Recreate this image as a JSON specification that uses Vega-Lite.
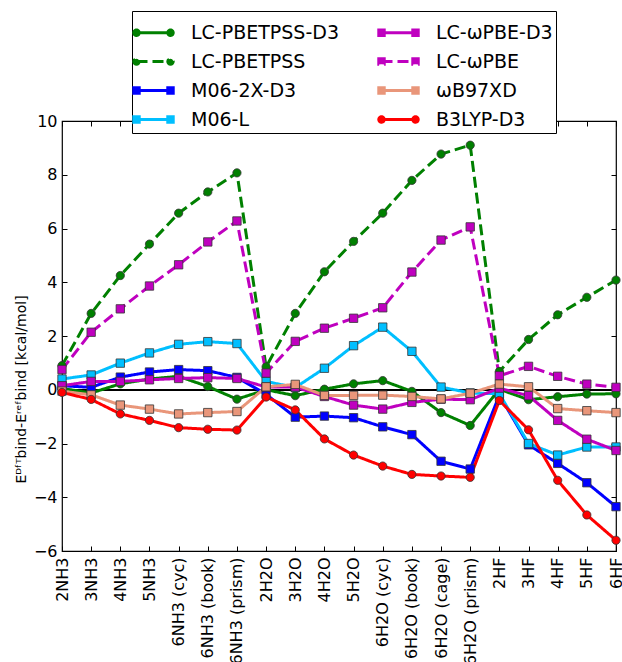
{
  "$schema": "https://vega.github.io/schema/vega-lite/v6.json",
  "width": 554,
  "height": 430,
  "autosize": {"type": "none"},
  "padding": {"left": 62, "top": 121, "right": 6, "bottom": 111},
  "config": {
    "font": "DejaVu Sans",
    "view": {"stroke": "black", "strokeWidth": 1.2},
    "axis": {"labelColor": "black", "tickColor": "black", "labelFont": "DejaVu Sans", "titleFont": "DejaVu Sans", "grid": false, "domain": false}
  },
  "data": {"values": [
    {"m":"LC-PBETPSS-D3","c":"2NH3","v":0.05},{"m":"LC-PBETPSS-D3","c":"3NH3","v":-0.12},{"m":"LC-PBETPSS-D3","c":"4NH3","v":0.22},{"m":"LC-PBETPSS-D3","c":"5NH3","v":0.40},{"m":"LC-PBETPSS-D3","c":"6NH3 (cyc)","v":0.50},{"m":"LC-PBETPSS-D3","c":"6NH3 (book)","v":0.12},{"m":"LC-PBETPSS-D3","c":"6NH3 (prism)","v":-0.35},{"m":"LC-PBETPSS-D3","c":"2H2O","v":0.0},{"m":"LC-PBETPSS-D3","c":"3H2O","v":-0.22},{"m":"LC-PBETPSS-D3","c":"4H2O","v":0.02},{"m":"LC-PBETPSS-D3","c":"5H2O","v":0.22},{"m":"LC-PBETPSS-D3","c":"6H2O (cyc)","v":0.34},{"m":"LC-PBETPSS-D3","c":"6H2O (book)","v":-0.06},{"m":"LC-PBETPSS-D3","c":"6H2O (cage)","v":-0.85},{"m":"LC-PBETPSS-D3","c":"6H2O (prism)","v":-1.33},{"m":"LC-PBETPSS-D3","c":"2HF","v":0.02},{"m":"LC-PBETPSS-D3","c":"3HF","v":-0.37},{"m":"LC-PBETPSS-D3","c":"4HF","v":-0.26},{"m":"LC-PBETPSS-D3","c":"5HF","v":-0.16},{"m":"LC-PBETPSS-D3","c":"6HF","v":-0.15},
    {"m":"LC-PBETPSS","c":"2NH3","v":0.9},{"m":"LC-PBETPSS","c":"3NH3","v":2.84},{"m":"LC-PBETPSS","c":"4NH3","v":4.25},{"m":"LC-PBETPSS","c":"5NH3","v":5.42},{"m":"LC-PBETPSS","c":"6NH3 (cyc)","v":6.57},{"m":"LC-PBETPSS","c":"6NH3 (book)","v":7.36},{"m":"LC-PBETPSS","c":"6NH3 (prism)","v":8.07},{"m":"LC-PBETPSS","c":"2H2O","v":0.85},{"m":"LC-PBETPSS","c":"3H2O","v":2.84},{"m":"LC-PBETPSS","c":"4H2O","v":4.39},{"m":"LC-PBETPSS","c":"5H2O","v":5.52},{"m":"LC-PBETPSS","c":"6H2O (cyc)","v":6.57},{"m":"LC-PBETPSS","c":"6H2O (book)","v":7.79},{"m":"LC-PBETPSS","c":"6H2O (cage)","v":8.77},{"m":"LC-PBETPSS","c":"6H2O (prism)","v":9.10},{"m":"LC-PBETPSS","c":"2HF","v":0.68},{"m":"LC-PBETPSS","c":"3HF","v":1.87},{"m":"LC-PBETPSS","c":"4HF","v":2.79},{"m":"LC-PBETPSS","c":"5HF","v":3.44},{"m":"LC-PBETPSS","c":"6HF","v":4.08},
    {"m":"M06-2X-D3","c":"2NH3","v":0.15},{"m":"M06-2X-D3","c":"3NH3","v":0.09},{"m":"M06-2X-D3","c":"4NH3","v":0.47},{"m":"M06-2X-D3","c":"5NH3","v":0.66},{"m":"M06-2X-D3","c":"6NH3 (cyc)","v":0.75},{"m":"M06-2X-D3","c":"6NH3 (book)","v":0.71},{"m":"M06-2X-D3","c":"6NH3 (prism)","v":0.46},{"m":"M06-2X-D3","c":"2H2O","v":-0.17},{"m":"M06-2X-D3","c":"3H2O","v":-1.02},{"m":"M06-2X-D3","c":"4H2O","v":-0.98},{"m":"M06-2X-D3","c":"5H2O","v":-1.04},{"m":"M06-2X-D3","c":"6H2O (cyc)","v":-1.38},{"m":"M06-2X-D3","c":"6H2O (book)","v":-1.67},{"m":"M06-2X-D3","c":"6H2O (cage)","v":-2.66},{"m":"M06-2X-D3","c":"6H2O (prism)","v":-2.95},{"m":"M06-2X-D3","c":"2HF","v":-0.2},{"m":"M06-2X-D3","c":"3HF","v":-2.05},{"m":"M06-2X-D3","c":"4HF","v":-2.74},{"m":"M06-2X-D3","c":"5HF","v":-3.46},{"m":"M06-2X-D3","c":"6HF","v":-4.35},
    {"m":"M06-L","c":"2NH3","v":0.40},{"m":"M06-L","c":"3NH3","v":0.55},{"m":"M06-L","c":"4NH3","v":0.99},{"m":"M06-L","c":"5NH3","v":1.37},{"m":"M06-L","c":"6NH3 (cyc)","v":1.69},{"m":"M06-L","c":"6NH3 (book)","v":1.79},{"m":"M06-L","c":"6NH3 (prism)","v":1.72},{"m":"M06-L","c":"2H2O","v":0.31},{"m":"M06-L","c":"3H2O","v":0.08},{"m":"M06-L","c":"4H2O","v":0.80},{"m":"M06-L","c":"5H2O","v":1.64},{"m":"M06-L","c":"6H2O (cyc)","v":2.33},{"m":"M06-L","c":"6H2O (book)","v":1.43},{"m":"M06-L","c":"6H2O (cage)","v":0.10},{"m":"M06-L","c":"6H2O (prism)","v":-0.12},{"m":"M06-L","c":"2HF","v":-0.15},{"m":"M06-L","c":"3HF","v":-2.0},{"m":"M06-L","c":"4HF","v":-2.43},{"m":"M06-L","c":"5HF","v":-2.13},{"m":"M06-L","c":"6HF","v":-2.13},
    {"m":"LC-ωPBE-D3","c":"2NH3","v":0.15},{"m":"LC-ωPBE-D3","c":"3NH3","v":0.31},{"m":"LC-ωPBE-D3","c":"4NH3","v":0.31},{"m":"LC-ωPBE-D3","c":"5NH3","v":0.37},{"m":"LC-ωPBE-D3","c":"6NH3 (cyc)","v":0.42},{"m":"LC-ωPBE-D3","c":"6NH3 (book)","v":0.45},{"m":"LC-ωPBE-D3","c":"6NH3 (prism)","v":0.42},{"m":"LC-ωPBE-D3","c":"2H2O","v":0.10},{"m":"LC-ωPBE-D3","c":"3H2O","v":0.10},{"m":"LC-ωPBE-D3","c":"4H2O","v":-0.25},{"m":"LC-ωPBE-D3","c":"5H2O","v":-0.57},{"m":"LC-ωPBE-D3","c":"6H2O (cyc)","v":-0.72},{"m":"LC-ωPBE-D3","c":"6H2O (book)","v":-0.47},{"m":"LC-ωPBE-D3","c":"6H2O (cage)","v":-0.35},{"m":"LC-ωPBE-D3","c":"6H2O (prism)","v":-0.37},{"m":"LC-ωPBE-D3","c":"2HF","v":0.06},{"m":"LC-ωPBE-D3","c":"3HF","v":-0.22},{"m":"LC-ωPBE-D3","c":"4HF","v":-1.14},{"m":"LC-ωPBE-D3","c":"5HF","v":-1.84},{"m":"LC-ωPBE-D3","c":"6HF","v":-2.26},
    {"m":"LC-ωPBE","c":"2NH3","v":0.75},{"m":"LC-ωPBE","c":"3NH3","v":2.14},{"m":"LC-ωPBE","c":"4NH3","v":3.01},{"m":"LC-ωPBE","c":"5NH3","v":3.86},{"m":"LC-ωPBE","c":"6NH3 (cyc)","v":4.65},{"m":"LC-ωPBE","c":"6NH3 (book)","v":5.50},{"m":"LC-ωPBE","c":"6NH3 (prism)","v":6.28},{"m":"LC-ωPBE","c":"2H2O","v":0.62},{"m":"LC-ωPBE","c":"3H2O","v":1.80},{"m":"LC-ωPBE","c":"4H2O","v":2.29},{"m":"LC-ωPBE","c":"5H2O","v":2.66},{"m":"LC-ωPBE","c":"6H2O (cyc)","v":3.05},{"m":"LC-ωPBE","c":"6H2O (book)","v":4.38},{"m":"LC-ωPBE","c":"6H2O (cage)","v":5.57},{"m":"LC-ωPBE","c":"6H2O (prism)","v":6.06},{"m":"LC-ωPBE","c":"2HF","v":0.52},{"m":"LC-ωPBE","c":"3HF","v":0.87},{"m":"LC-ωPBE","c":"4HF","v":0.50},{"m":"LC-ωPBE","c":"5HF","v":0.21},{"m":"LC-ωPBE","c":"6HF","v":0.09},
    {"m":"ωB97XD","c":"2NH3","v":-0.05},{"m":"ωB97XD","c":"3NH3","v":-0.19},{"m":"ωB97XD","c":"4NH3","v":-0.57},{"m":"ωB97XD","c":"5NH3","v":-0.72},{"m":"ωB97XD","c":"6NH3 (cyc)","v":-0.90},{"m":"ωB97XD","c":"6NH3 (book)","v":-0.85},{"m":"ωB97XD","c":"6NH3 (prism)","v":-0.81},{"m":"ωB97XD","c":"2H2O","v":0.11},{"m":"ωB97XD","c":"3H2O","v":0.20},{"m":"ωB97XD","c":"4H2O","v":-0.21},{"m":"ωB97XD","c":"5H2O","v":-0.21},{"m":"ωB97XD","c":"6H2O (cyc)","v":-0.20},{"m":"ωB97XD","c":"6H2O (book)","v":-0.25},{"m":"ωB97XD","c":"6H2O (cage)","v":-0.34},{"m":"ωB97XD","c":"6H2O (prism)","v":-0.13},{"m":"ωB97XD","c":"2HF","v":0.21},{"m":"ωB97XD","c":"3HF","v":0.11},{"m":"ωB97XD","c":"4HF","v":-0.70},{"m":"ωB97XD","c":"5HF","v":-0.78},{"m":"ωB97XD","c":"6HF","v":-0.85},
    {"m":"B3LYP-D3","c":"2NH3","v":-0.10},{"m":"B3LYP-D3","c":"3NH3","v":-0.36},{"m":"B3LYP-D3","c":"4NH3","v":-0.90},{"m":"B3LYP-D3","c":"5NH3","v":-1.14},{"m":"B3LYP-D3","c":"6NH3 (cyc)","v":-1.41},{"m":"B3LYP-D3","c":"6NH3 (book)","v":-1.47},{"m":"B3LYP-D3","c":"6NH3 (prism)","v":-1.50},{"m":"B3LYP-D3","c":"2H2O","v":-0.27},{"m":"B3LYP-D3","c":"3H2O","v":-0.75},{"m":"B3LYP-D3","c":"4H2O","v":-1.83},{"m":"B3LYP-D3","c":"5H2O","v":-2.43},{"m":"B3LYP-D3","c":"6H2O (cyc)","v":-2.84},{"m":"B3LYP-D3","c":"6H2O (book)","v":-3.15},{"m":"B3LYP-D3","c":"6H2O (cage)","v":-3.21},{"m":"B3LYP-D3","c":"6H2O (prism)","v":-3.26},{"m":"B3LYP-D3","c":"2HF","v":-0.40},{"m":"B3LYP-D3","c":"3HF","v":-1.49},{"m":"B3LYP-D3","c":"4HF","v":-3.37},{"m":"B3LYP-D3","c":"5HF","v":-4.66},{"m":"B3LYP-D3","c":"6HF","v":-5.60}
  ]},
  "resolve": {"axis": {"x": "independent", "y": "independent"}},
  "layer": [
    {
      "mark": {"type": "rule", "color": "black", "strokeWidth": 1},
      "encoding": {"y": {"datum": 0, "type": "quantitative", "axis": null}}
    },
    {
      "mark": {"type": "line", "strokeWidth": 3},
      "encoding": {
        "x": {"field": "c", "type": "nominal",
          "scale": {"type": "point", "padding": 0, "domain": ["2NH3","3NH3","4NH3","5NH3","6NH3 (cyc)","6NH3 (book)","6NH3 (prism)","2H2O","3H2O","4H2O","5H2O","6H2O (cyc)","6H2O (book)","6H2O (cage)","6H2O (prism)","2HF","3HF","4HF","5HF","6HF"]},
          "axis": {"orient": "bottom", "title": null, "labelAngle": -90, "labelFontSize": 16, "tickSize": -5, "labelPadding": 11, "labelLimit": 200}},
        "y": {"field": "v", "type": "quantitative",
          "scale": {"domain": [-6, 10], "nice": false, "zero": false},
          "axis": {"orient": "left", "values": [-6,-4,-2,0,2,4,6,8,10], "labelFontSize": 16, "tickSize": -5, "labelPadding": 10,
            "title": "Eᴰᶠᵀbind-Eʳᵉᶠbind [kcal/mol]", "titleFontSize": 14, "titleFontWeight": "normal", "titleColor": "black", "titlePadding": 5,
            "titleAlign": "center", "titleY": 268}},
        "color": {"field": "m", "type": "nominal",
          "scale": {"domain": ["LC-PBETPSS-D3","LC-PBETPSS","M06-2X-D3","M06-L","LC-ωPBE-D3","LC-ωPBE","ωB97XD","B3LYP-D3"],
                    "range": ["#008000","#008000","#0000FF","#00BFFF","#BF00BF","#BF00BF","#E9967A","#FF0000"]},
          "legend": {
            "orient": "none", "legendX": 70, "legendY": -110, "columns": 2, "title": null,
            "labelFontSize": 19, "labelColor": "black", "labelFont": "DejaVu Sans",
            "symbolSize": 1156, "symbolType": "M-1,0H1", "symbolStrokeWidth": 3,
            "strokeColor": "black", "fillColor": "white", "padding": 3, "rowPadding": 0, "columnPadding": 33, "labelOffset": 19,
            "encode": {"symbols": {"update": {
              "shape": {"signal": "indexof(['M06-2X-D3','M06-L','LC-ωPBE-D3','LC-ωPBE','ωB97XD'], datum.value) >= 0 ? 'M-1,0H1M-1.16,-0.16H-0.84V0.16H-1.16ZM0.84,-0.16H1.16V0.16H0.84Z' : 'M-1,0H1M-0.84,0A0.16,0.16,0,1,1,-1.16,0A0.16,0.16,0,1,1,-0.84,0ZM1.16,0A0.16,0.16,0,1,1,0.84,0A0.16,0.16,0,1,1,1.16,0Z'"},
              "strokeDash": {"signal": "indexof(['LC-PBETPSS','LC-ωPBE'], datum.value) >= 0 ? [8,5] : [1,0]"},
              "fill": {"scale": "color", "field": "value"},
              "stroke": {"scale": "color", "field": "value"},
              "strokeWidth": {"value": 3},
              "opacity": {"value": 1}
            }}}
          }},
        "strokeDash": {"field": "m", "type": "nominal", "legend": null,
          "scale": {"domain": ["LC-PBETPSS-D3","LC-PBETPSS","M06-2X-D3","M06-L","LC-ωPBE-D3","LC-ωPBE","ωB97XD","B3LYP-D3"],
                    "range": [[1,0],[11,5],[1,0],[1,0],[1,0],[11,5],[1,0],[1,0]]}}
      }
    },
    {
      "transform": [{"filter": {"field": "m", "oneOf": ["LC-PBETPSS-D3","LC-PBETPSS"]}}],
      "mark": {"type": "point", "shape": "circle", "filled": true, "opacity": 1, "stroke": "#333333", "strokeWidth": 0.8, "size": 68},
      "encoding": {
        "x": {"field": "c", "type": "nominal",
          "axis": {"orient": "top", "title": null, "labels": false, "tickSize": -5}},
        "y": {"field": "v", "type": "quantitative",
          "axis": {"orient": "right", "title": null, "labels": false, "tickSize": -5, "values": [-6,-4,-2,0,2,4,6,8,10]}},
        "color": {"field": "m", "type": "nominal", "legend": null}
      }
    },
    {
      "transform": [{"filter": {"field": "m", "oneOf": ["M06-2X-D3","M06-L","LC-ωPBE-D3","LC-ωPBE","ωB97XD"]}}],
      "mark": {"type": "point", "shape": "square", "filled": true, "opacity": 1, "stroke": "#333333", "strokeWidth": 0.8, "size": 70},
      "encoding": {
        "x": {"field": "c", "type": "nominal", "axis": null},
        "y": {"field": "v", "type": "quantitative", "axis": null},
        "color": {"field": "m", "type": "nominal", "legend": null}
      }
    },
    {
      "transform": [{"filter": {"field": "m", "equal": "B3LYP-D3"}}],
      "mark": {"type": "point", "shape": "circle", "filled": true, "opacity": 1, "stroke": "#333333", "strokeWidth": 0.8, "size": 68},
      "encoding": {
        "x": {"field": "c", "type": "nominal", "axis": null},
        "y": {"field": "v", "type": "quantitative", "axis": null},
        "color": {"field": "m", "type": "nominal", "legend": null}
      }
    }
  ]
}
